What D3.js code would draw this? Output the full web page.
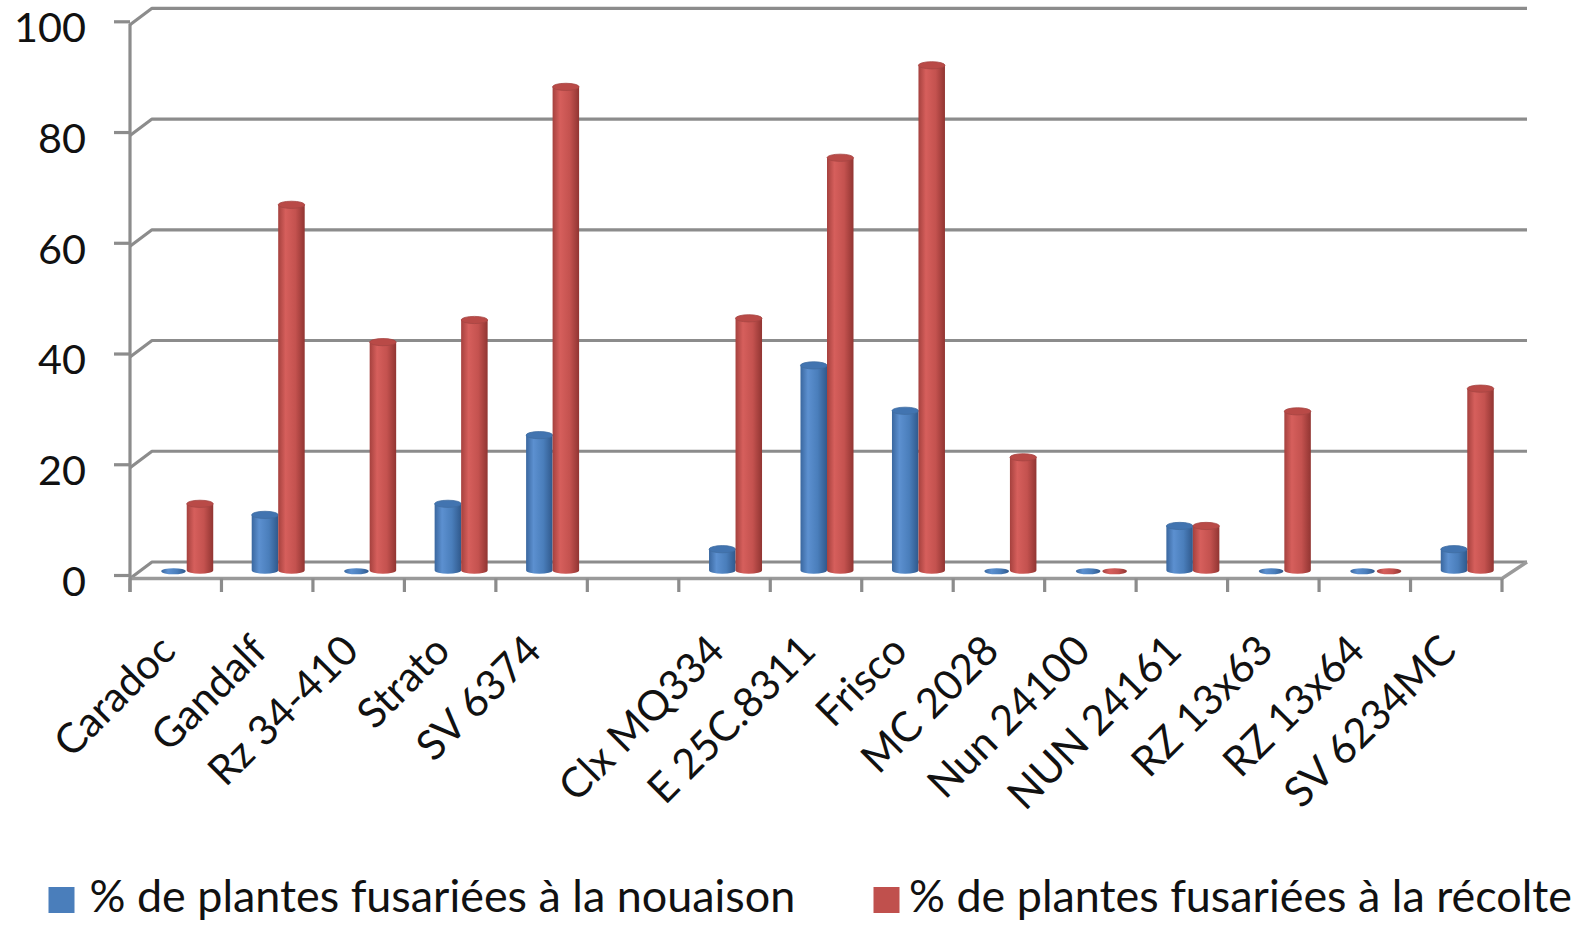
<!DOCTYPE html>
<html><head><meta charset="utf-8">
<script src="https://cdn.jsdelivr.net/npm/d3@7"></script>
<style>html,body{margin:0;padding:0;background:#fff;}svg{display:block;}</style>
</head><body>
<svg id="chart" width="1589" height="925"></svg>
<script>
const categories = ["Caradoc","Gandalf","Rz 34-410","Strato","SV 6374"," ","Clx MQ334","E 25C.8311","Frisco","MC 2028","Nun 24100","NUN 24161","RZ 13x63","RZ 13x64","SV 6234MC"];
const nouaison = [0, 10, 0, 12, 24.4, null, 3.8, 37, 28.8, 0, 0, 8, 0, 0, 3.8];
const recolte  = [12, 66, 41.2, 45.2, 87.3, null, 45.5, 74.5, 91.2, 20.4, 0, 8, 28.7, 0, 32.8];
const yTicks = [0, 20, 40, 60, 80, 100];
const seriesNames = ["% de plantes fusariées à la nouaison", "% de plantes fusariées à la récolte"];
const seriesColors = ["#4a7ebb", "#c0504d"];

const svg = d3.select("#chart");
const FONT = "Lato, 'Open Sans', sans-serif";
const gridColor = "#8c8c8c";

// 3D frame geometry
const depthDx = 22, depthDy = -16.5;
const x = d3.scaleBand().domain(categories).range([130, 1502]).padding(0);
const yBack = d3.scaleLinear().domain([0, 100]).range([562, 8.3]);
const yFront = v => yBack(v) - depthDy;
const yMid = v => yBack(v) - depthDy / 2;
const xMid = c => x(c) + x.bandwidth() / 2 + depthDx / 2;
const inner = d3.scaleBand().domain([0, 1]).range([-26.5, 26.5]).padding(0);

function fitSize(str, target) {
  const t = svg.append("text").attr("font-family", FONT).attr("font-size", 100).text(str);
  const w = t.node().getComputedTextLength();
  t.remove();
  return 100 * target / w;
}
const fsTick = fitSize("100", 72);
const fsCat = 1.08 * (fitSize("Caradoc", 143) + fitSize("E 25C.8311", 195)) / 2;
const fsLeg = fitSize(seriesNames[0], 706);

// gradients
const defs = svg.append("defs");
const gradStops = [
  [["0%", "#3a679f"], ["28%", "#5c90d0"], ["65%", "#4a7ebb"], ["100%", "#30598c"]],
  [["0%", "#a5413e"], ["28%", "#d65f5c"], ["65%", "#c4524f"], ["100%", "#913532"]]
];
gradStops.forEach((stops, i) => {
  const g = defs.append("linearGradient").attr("id", "cyl" + i)
    .attr("x1", "0%").attr("x2", "100%").attr("y1", "0%").attr("y2", "0%");
  stops.forEach(s => g.append("stop").attr("offset", s[0]).attr("stop-color", s[1]));
});
const topColors = ["#4274b0", "#b94a47"];

// back wall gridlines + side wall diagonals
const grid = svg.append("g");
yTicks.forEach(v => {
  grid.append("path")
    .attr("d", `M130,${yFront(v)} L${130 + depthDx},${yBack(v)} L1527,${yBack(v)}`)
    .attr("fill", "none").attr("stroke", gridColor).attr("stroke-width", 3.2)
    .attr("stroke-linejoin", "round");
});
// floor front edge & right diagonal
svg.append("path")
  .attr("d", `M130,${yFront(0)} L1502,${yFront(0)} L1527,${yBack(0)}`)
  .attr("fill", "none").attr("stroke", "#9a9a9a").attr("stroke-width", 3.5);

// cylinders
const bars = svg.append("g");
const rx = inner.bandwidth() / 2, ry = 3.6;
const series = [nouaison, recolte];
categories.forEach((c, ci) => {
  series.forEach((vals, si) => {
    const v = vals[ci];
    if (v === null || v === undefined) return;
    const cx = xMid(c) + inner(si) + rx;
    const base = yMid(0);
    const top = yMid(v);
    const x0 = cx - rx, x1 = cx + rx;
    if (v > 0) {
      bars.append("path")
        .attr("d", `M${x0},${top} L${x0},${base} A${rx},${ry} 0 0 0 ${x1},${base} L${x1},${top} Z`)
        .attr("fill", `url(#cyl${si})`);
      bars.append("ellipse").attr("cx", cx).attr("cy", top).attr("rx", rx).attr("ry", ry)
        .attr("fill", topColors[si]).attr("stroke", d3.color(seriesColors[si]).darker(0.4)).attr("stroke-width", 0.8);
    } else {
      bars.append("ellipse").attr("cx", cx).attr("cy", base + 1).attr("rx", rx - 1).attr("ry", ry - 0.5)
        .attr("fill", `url(#cyl${si})`);
    }
  });
});

// front vertical axis & ticks
svg.append("line").attr("x1", 130).attr("x2", 130).attr("y1", yFront(100) - 1).attr("y2", 592)
  .attr("stroke", gridColor).attr("stroke-width", 3.2);
yTicks.forEach(v => {
  svg.append("line").attr("x1", 114).attr("x2", 130).attr("y1", yFront(v) - 3).attr("y2", yFront(v) - 3)
    .attr("stroke", gridColor).attr("stroke-width", 3.2);
  svg.append("text").attr("x", 86).attr("y", yFront(v)).attr("dy", "0.42em")
    .attr("text-anchor", "end").attr("font-family", FONT).attr("font-size", fsTick)
    .attr("fill", "#111").text(v);
});
// x ticks at band boundaries
const bounds = categories.map(c => x(c)).concat([x.range()[1]]);
bounds.forEach(bx => {
  svg.append("line").attr("x1", bx).attr("x2", bx).attr("y1", yFront(0)).attr("y2", 592)
    .attr("stroke", gridColor).attr("stroke-width", 3.2);
});
// category labels
categories.forEach(c => {
  const px = x(c) + x.bandwidth() / 2 + 2, py = 653;
  svg.append("text").attr("transform", `translate(${px},${py}) rotate(-45)`)
    .attr("text-anchor", "end").attr("font-family", FONT).attr("font-size", fsCat)
    .attr("fill", "#111").text(c.trim());
});

// legend
const legPos = [[48.5, 89.5], [873.5, 909]];
seriesNames.forEach((name, i) => {
  svg.append("rect").attr("x", legPos[i][0]).attr("y", 887).attr("width", 26).attr("height", 26)
    .attr("fill", seriesColors[i]);
  svg.append("text").attr("x", legPos[i][1]).attr("y", 912)
    .attr("font-family", FONT).attr("font-size", fsLeg).attr("fill", "#111").text(name);
});
</script>
</body></html>
